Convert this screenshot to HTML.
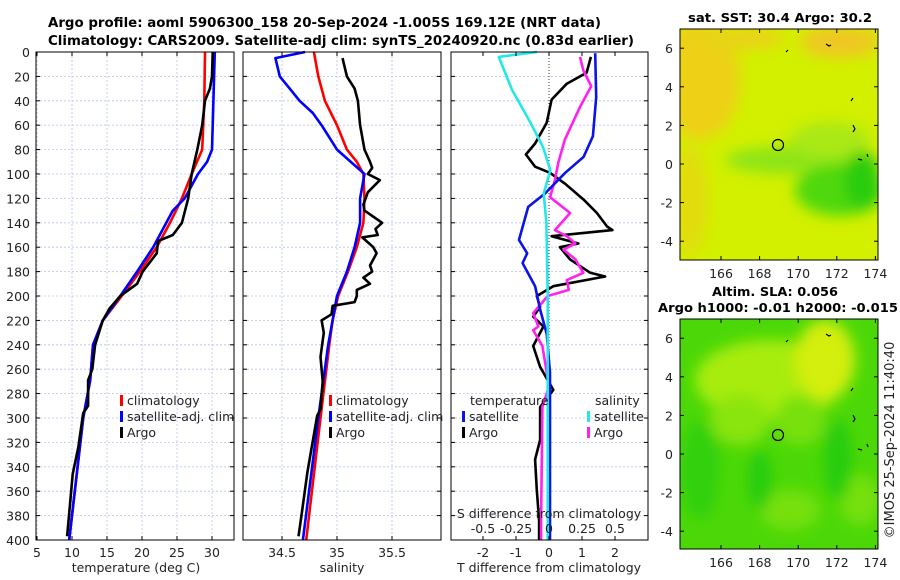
<!DOCTYPE html>
<html><head><meta charset="utf-8"><style>
html,body{margin:0;padding:0;background:#fff;}
svg{display:block;font-family:"DejaVu Sans","Liberation Sans",sans-serif;}
</style></head><body>
<svg id="fig" width="900" height="580" viewBox="0 0 900 580">
<defs>
<filter id="blur6" x="-50%" y="-50%" width="200%" height="200%"><feGaussianBlur stdDeviation="7"/></filter>
<clipPath id="clipTop"><rect x="680" y="29" width="198" height="231"/></clipPath>
<clipPath id="clipBot"><rect x="680" y="319" width="198" height="230"/></clipPath>
</defs>
<text x="48" y="27" textLength="553" lengthAdjust="spacingAndGlyphs" font-size="13" font-weight="bold">Argo profile: aoml 5906300_158 20-Sep-2024 -1.005S 169.12E (NRT data)</text>
<text x="48" y="45" textLength="586" lengthAdjust="spacingAndGlyphs" font-size="13" font-weight="bold">Climatology: CARS2009. Satellite-adj clim: synTS_20240920.nc (0.83d earlier)</text>
<g id="panels"></g>

<!-- SST map -->
<text x="688" y="22" textLength="184" lengthAdjust="spacingAndGlyphs" font-size="12" font-weight="bold">sat. SST: 30.4 Argo: 30.2</text>
<g clip-path="url(#clipTop)">
<rect x="680" y="29" width="198" height="231" fill="#d2f000"/>
<g filter="url(#blur6)">
<ellipse cx="700" cy="80" rx="40" ry="60" fill="#eed018"/>
<ellipse cx="690" cy="200" rx="18" ry="55" fill="#e2dc08"/>
<ellipse cx="840" cy="42" rx="40" ry="16" fill="#eec820"/>
<ellipse cx="740" cy="38" rx="45" ry="12" fill="#e8d414"/>
<ellipse cx="790" cy="160" rx="65" ry="14" fill="#8ee418"/>
<ellipse cx="840" cy="190" rx="45" ry="26" fill="#50d810"/>
<ellipse cx="862" cy="180" rx="18" ry="30" fill="#2ccc10"/>
<ellipse cx="830" cy="140" rx="40" ry="18" fill="#aae812"/>
</g>
<circle cx="778" cy="145" r="5.5" fill="none" stroke="#000" stroke-width="1.2"/>
<path d="M826 44 l3 2 l2 -1 M851 101 l2 -3 M853 125 l2 4 l-2 3 M858 159 l4 1 M867 154 l1 3 M786 52 l2 -2" stroke="#000" fill="none" stroke-width="1.2"/>
</g>
<rect x="680" y="29" width="198" height="231" fill="none" stroke="#000" stroke-width="1"/>
<g id="mapTopTicks"></g>

<!-- SLA map -->
<text x="712" y="296" textLength="126" lengthAdjust="spacingAndGlyphs" font-size="12" font-weight="bold">Altim. SLA: 0.056</text>
<text x="658" y="312" textLength="240" lengthAdjust="spacingAndGlyphs" font-size="12" font-weight="bold">Argo h1000: -0.01 h2000: -0.015</text>
<g clip-path="url(#clipBot)">
<rect x="680" y="319" width="198" height="230" fill="#4cd808"/>
<g filter="url(#blur6)">
<ellipse cx="770" cy="380" rx="75" ry="40" fill="#a8ec08"/>
<ellipse cx="825" cy="360" rx="30" ry="40" fill="#d4ee10"/>
<ellipse cx="740" cy="420" rx="30" ry="25" fill="#8ae410"/>
<ellipse cx="800" cy="420" rx="25" ry="25" fill="#78e010"/>
<ellipse cx="790" cy="510" rx="30" ry="20" fill="#76e010"/>
<ellipse cx="860" cy="500" rx="20" ry="25" fill="#76e010"/>
<ellipse cx="700" cy="470" rx="20" ry="50" fill="#30d008"/>
<ellipse cx="760" cy="480" rx="12" ry="30" fill="#28cc08"/>
<ellipse cx="838" cy="460" rx="14" ry="40" fill="#28cc08"/>
</g>
<circle cx="778" cy="435" r="5.5" fill="none" stroke="#000" stroke-width="1.2"/>
<path d="M826 334 l3 2 l2 -1 M851 391 l2 -3 M853 415 l2 4 l-2 3 M858 449 l4 1 M867 444 l1 3 M786 342 l2 -2" stroke="#000" fill="none" stroke-width="1.2"/>
</g>
<rect x="680" y="319" width="198" height="230" fill="none" stroke="#000" stroke-width="1"/>
<g id="mapBotTicks"></g>
<text transform="translate(894,440) rotate(-90)" text-anchor="middle" font-size="13" fill="#222">©IMOS 25-Sep-2024 11:40:40</text>
</svg>
<script>
// ---- data ----
const tempClimDepth=[0,40,80,100,120,140,160,180,200,220,240,269,300,400];
const tempClim=[29.0,28.9,28.6,27.1,25.7,24.0,22.1,19.7,17.1,14.4,13.0,12.6,11.6,9.6];
const tempSatDepth=[0,80,90,100,120,130,160,180,200,220,240,269,300,400];
const tempSat=[30.4,30.0,29.3,28.0,26.1,24.4,21.6,19.3,16.9,14.4,13.0,12.6,11.6,9.6];
const tempArgoDepth=[0,20,30,40,60,80,100,120,140,150,155,165,180,190,200,210,220,240,260,269,290,296,324,346,378,397];
const tempArgo=[30.1,30.0,29.7,29.0,28.6,27.9,27.1,26.6,25.7,24.4,22.3,22.1,20.1,19.3,16.9,15.4,14.4,13.3,12.9,12.3,12.3,11.6,10.9,10.1,9.6,9.3];
const salClimDepth=[0,20,40,60,80,90,100,120,140,160,180,200,220,240,300,400];
const salClim=[34.79,34.83,34.89,35.00,35.09,35.18,35.24,35.25,35.24,35.18,35.10,35.01,34.96,34.93,34.85,34.72];
const salSatDepth=[0,5,20,30,40,50,60,80,100,120,140,160,180,200,220,240,300,400];
const salSat=[34.71,34.44,34.48,34.57,34.66,34.78,34.86,35.00,35.25,35.21,35.21,35.16,35.09,35.00,34.96,34.92,34.83,34.69];
const salArgoDepth=[5,20,30,40,60,70,80,90,95,100,105,115,125,130,140,145,150,152,160,165,175,180,185,190,195,200,205,208,215,220,230,250,270,293,298,324,345,378,397];
const salArgo=[35.05,35.09,35.16,35.19,35.21,35.23,35.25,35.30,35.32,35.28,35.39,35.28,35.24,35.25,35.41,35.35,35.37,35.23,35.33,35.36,35.30,35.32,35.24,35.30,35.18,35.18,35.16,34.96,34.95,34.86,34.88,34.85,34.87,34.85,34.82,34.77,34.73,34.68,34.65];
const dTSatDepth=[1,37,69,86,99,116,127,154,165,173,192,211,231,263,400];
const dTSat=[1.4,1.43,1.33,1.05,0.49,-0.12,-0.63,-0.91,-0.66,-0.8,-0.42,-0.27,-0.07,0.03,0.03];
const dTArgoDepth=[4,17,26,39,58,75,84,94,99,108,121,132,143,146,151,157,160,170,181,184,192,200,209,217,225,241,258,277,291,318,334,359,384,400];
const dTArgo=[1.27,1.14,0.54,0.08,-0.07,-0.42,-0.7,-0.42,0.03,0.49,1.05,1.45,1.76,1.92,0.08,0.89,0.33,0.64,1.25,1.7,0.13,-0.37,-0.27,-0.48,-0.17,-0.48,-0.27,0.13,-0.27,-0.27,-0.42,-0.37,-0.3,-0.3];
const dSSatDepth=[0,4,31,58,78,97,116,140,200,400];
const dSSat=[-0.09,-0.38,-0.28,-0.14,-0.045,0.01,-0.04,-0.02,-0.01,-0.01];
const dSArgoDepth=[4,15,28,45,72,91,105,119,132,146,151,157,162,170,181,187,195,200,214,225,228,241,274,291,384,400];
const dSArgo=[0.235,0.26,0.32,0.235,0.12,0.07,0.045,0.008,0.16,0.045,0.135,0.2,0.11,0.2,0.26,0.135,0.15,-0.01,-0.12,-0.08,-0.12,-0.05,0,-0.05,-0.06,-0.06];
const depthTicks=[0,20,40,60,80,100,120,140,160,180,200,220,240,260,280,300,320,340,360,380,400];
const tempTicks=[5,10,15,20,25,30];
const salTicks=[34.5,35,35.5];
const dTTicks=[-2,-1,0,1,2];
const dSTicks=[-0.5,-0.25,0,0.25,0.5];
const latTicks=[6,4,2,0,-2,-4];
const lonTicks=[166,168,170,172,174];

// ---- scales ----
const NS='http://www.w3.org/2000/svg';
const yD=d=>52+d*1.22;
const xT=t=>37+(t-5)*7;
const xS=s=>337+(s-35)*110;
const xdT=t=>549+33*t;
const xdS=s=>549+132*s;
const yLatTop=l=>164-l*19.3, yLatBot=l=>454-l*19.3;
const xLon=l=>721+(l-166)*19.3;

function mk(tag,attrs,parent){const e=document.createElementNS(NS,tag);for(const k in attrs)e.setAttribute(k,attrs[k]);parent.appendChild(e);return e;}
const root=document.getElementById('panels');

function panel(name){
  const g=mk('g',{},root);
  
  
  return g;
}
function grid(g,x0,x1,xs){
  depthTicks.forEach(d=>{const l=mk('line',{x1:x0,x2:x1,y1:yD(d),y2:yD(d),stroke:'#b8c4ec','stroke-width':0.8,'stroke-dasharray':'2,2'},g);
    
    });
  xs.forEach(x=>{const l=mk('line',{x1:x,x2:x,y1:52,y2:540,stroke:'#b8c4ec','stroke-width':0.8,'stroke-dasharray':'2,2'},g);
    
    });
}
function frame(g,x0,x1,xs){
  mk('rect',{x:x0,y:52,width:x1-x0,height:488,fill:'none',stroke:'#000','stroke-width':1},g);
  depthTicks.forEach(d=>{mk('line',{x1:x0,x2:x0+4,y1:yD(d),y2:yD(d),stroke:'#000'},g);mk('line',{x1:x1-4,x2:x1,y1:yD(d),y2:yD(d),stroke:'#000'},g);});
  xs.forEach(x=>{mk('line',{x1:x,x2:x,y1:540,y2:536,stroke:'#000'},g);mk('line',{x1:x,x2:x,y1:52,y2:56,stroke:'#000'},g);});
}
function line(g,depths,vals,sx,color,name){
  const pts=depths.map((d,i)=>sx(vals[i]).toFixed(1)+','+yD(d).toFixed(1)).join(' ');
  const p=mk('polyline',{points:pts,fill:'none',stroke:color,'stroke-width':2.6,'stroke-linejoin':'round'},g);
  
  
}
function txt(g,x,y,s,opts,name){const t=mk('text',Object.assign({x:x,y:y,'font-size':12.5,fill:'#222'},opts||{}),g);t.textContent=s;
  
  
  return t;}
function legend(g,x,y,items,name){
  items.forEach((it,i)=>{
    const r=mk('rect',{x:x,y:y+i*16-10,width:3,height:11,fill:it[1]},g);
    
    
    txt(g,x+7,y+i*16,it[0],{},name+'-label');
  });
}

// panel 1
let g=panel('temperature-panel');
grid(g,36,234,tempTicks.map(xT));
line(g,tempClimDepth,tempClim,xT,'#ff0000','temp-climatology-line');
line(g,tempSatDepth,tempSat,xT,'#0000ff','temp-satellite-line');
line(g,tempArgoDepth,tempArgo,xT,'#000','temp-argo-line');
frame(g,36,234,tempTicks.map(xT));
depthTicks.forEach(d=>txt(g,30,yD(d)+5,String(d),{'text-anchor':'end'},'depth-tick-label'));
tempTicks.forEach(t=>txt(g,xT(t),557,String(t),{'text-anchor':'middle'},'temp-tick-label'));
txt(g,136,572,'temperature (deg C)',{'text-anchor':'middle'},'x-axis-title-temperature');
legend(g,120,405,[['climatology','#ff0000'],['satellite-adj. clim','#0000ff'],['Argo','#000']],'temp-legend');

// panel 2
g=panel('salinity-panel');
grid(g,243,441,salTicks.map(xS));
line(g,salClimDepth,salClim,xS,'#ff0000','sal-climatology-line');
line(g,salSatDepth,salSat,xS,'#0000ff','sal-satellite-line');
line(g,salArgoDepth,salArgo,xS,'#000','sal-argo-line');
frame(g,243,441,salTicks.map(xS));
salTicks.forEach(t=>txt(g,xS(t),557,String(t),{'text-anchor':'middle'},'sal-tick-label'));
txt(g,342,572,'salinity',{'text-anchor':'middle'},'x-axis-title-salinity');
legend(g,329,405,[['climatology','#ff0000'],['satellite-adj. clim','#0000ff'],['Argo','#000']],'sal-legend');

// panel 3
g=panel('difference-panel');
grid(g,451,648,[]);
const z=mk('line',{x1:549,x2:549,y1:52,y2:540,stroke:'#333','stroke-width':1,'stroke-dasharray':'1,2'},g);


line(g,dTArgoDepth,dTArgo,xdT,'#000','dT-argo-line');
line(g,dSArgoDepth,dSArgo,xdS,'#ff22ee','dS-argo-line');
line(g,dTSatDepth,dTSat,xdT,'#0a14e6','dT-satellite-line');
line(g,dSSatDepth,dSSat,xdS,'#22e8e8','dS-satellite-line');
frame(g,451,648,dTTicks.map(xdT));
dTTicks.forEach(t=>txt(g,xdT(t),557,String(t),{'text-anchor':'middle'},'dT-tick-label'));
dSTicks.forEach(t=>txt(g,xdS(t),533,String(t),{'text-anchor':'middle'},'dS-tick-label'));
txt(g,549,518,'S difference from climatology',{'text-anchor':'middle'},'dS-axis-title');
txt(g,549,572,'T difference from climatology',{'text-anchor':'middle'},'dT-axis-title');
txt(g,470,405,'temperature',{},'legend-temperature-heading');
txt(g,595,405,'salinity',{},'legend-salinity-heading');
legend(g,462,421,[['satellite','#0a14e6'],['Argo','#000']],'dT-legend');
legend(g,587,421,[['satellite','#22e8e8'],['Argo','#ff22ee']],'dS-legend');

// map ticks
function mapTicks(id,yLat,y0,y1){
  const gg=document.getElementById(id);
  latTicks.forEach(l=>{const y=yLat(l);mk('line',{x1:680,x2:684,y1:y,y2:y,stroke:'#000'},gg);mk('line',{x1:874,x2:878,y1:y,y2:y,stroke:'#000'},gg);
    txt(gg,673,y+5,String(l),{'text-anchor':'end'},'lat-tick-label');});
  lonTicks.forEach(l=>{const x=xLon(l);mk('line',{x1:x,x2:x,y1:y1,y2:y1-4,stroke:'#000'},gg);mk('line',{x1:x,x2:x,y1:y0,y2:y0+4,stroke:'#000'},gg);
    txt(gg,x,y1+18,String(l),{'text-anchor':'middle'},'lon-tick-label');});
}
mapTicks('mapTopTicks',yLatTop,29,260);
mapTicks('mapBotTicks',yLatBot,319,549);
</script>
</body></html>
